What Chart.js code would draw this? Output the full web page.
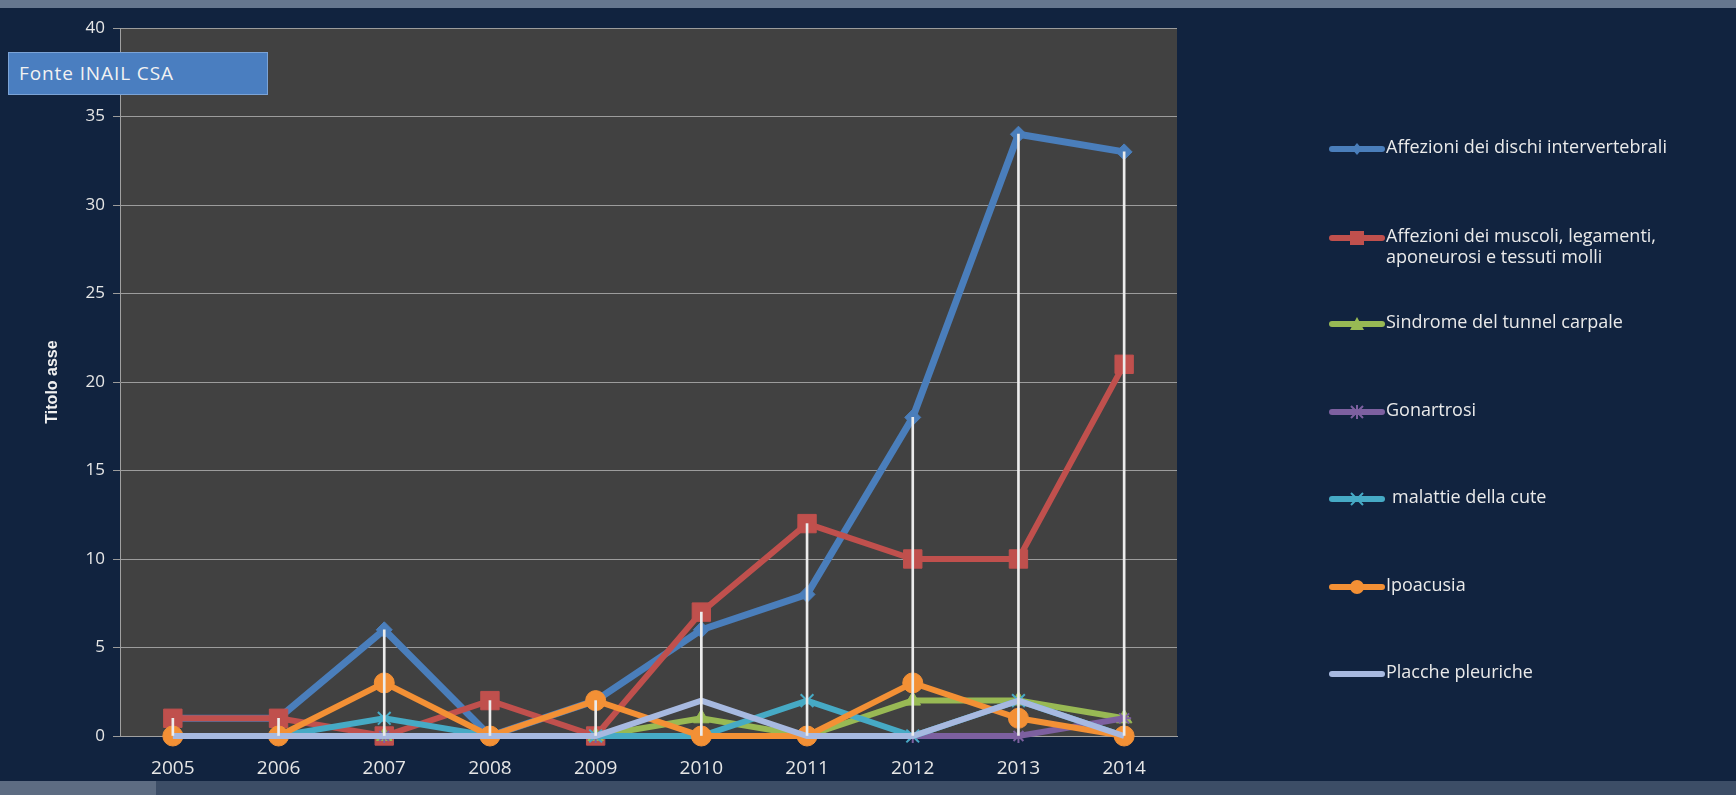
<!DOCTYPE html>
<html><head><meta charset="utf-8">
<script src="https://cdn.jsdelivr.net/npm/chart.js@4"></script>
<style>
html,body{margin:0;padding:0;width:1736px;height:795px;overflow:hidden;background:#11233f;font-family:"Open Sans",sans-serif;}
#top{position:absolute;left:0;top:0;width:1736px;height:8px;background:#66778f;}
#bot{position:absolute;left:0;top:781px;width:1736px;height:14px;background:#3c4d66;}
#botL{position:absolute;left:0;top:781px;width:156px;height:14px;background:#5d6c82;}
#wrap{position:absolute;left:0;top:0;width:1736px;height:795px;}
#fonte{position:absolute;left:8px;top:52px;width:260px;height:43px;background:#4a7ec0;border:1px solid #7ba3d6;box-sizing:border-box;color:#f2f2f2;font-size:19px;line-height:41px;padding-left:10px;letter-spacing:0.9px;white-space:nowrap;}
.leg{position:absolute;left:1329px;height:0;}
.leg svg{position:absolute;left:0;top:-10px;}
.leg span{position:absolute;left:57px;top:-13px;color:#eaeaea;font-size:18px;line-height:21px;white-space:nowrap;}
</style>
</head><body>
<div id="top"></div>
<div id="wrap"><canvas id="c" width="1736" height="795"></canvas></div>
<div id="bot"></div><div id="botL"></div>
<div id="fonte">Fonte INAIL CSA</div>
<div id="legend"></div>
<script>
const years = ['2005','2006','2007','2008','2009','2010','2011','2012','2013','2014'];
const dischi     = [1, 1, 6, 0, 2, 6, 8, 18, 34, 33];
const muscoli    = [1, 1, 0, 2, 0, 7, 12, 10, 10, 21];
const tunnel     = [0, 0, 0, 0, 0, 1, 0, 2, 2, 1];
const gonartrosi = [0, 0, 0, 0, 0, 0, 0, 0, 0, 1];
const cute       = [0, 0, 1, 0, 0, 0, 2, 0, 2, 0];
const ipoacusia  = [0, 0, 3, 0, 2, 0, 0, 3, 1, 0];
const placche    = [0, 0, 0, 0, 0, 2, 0, 0, 2, 0];
const seriesNames = [
  'Affezioni dei dischi intervertebrali',
  'Affezioni dei muscoli, legamenti,\naponeurosi e tessuti molli',
  'Sindrome del tunnel carpale',
  'Gonartrosi',
  ' malattie della cute',
  'Ipoacusia',
  'Placche pleuriche'
];
const yMin = 0, yMax = 40, yStep = 5;

const allSeries = [dischi, muscoli, tunnel, gonartrosi, cute, ipoacusia, placche];
const colors = ['#4a7ebb','#c0504d','#98b954','#7d60a0','#46aac5','#f39035','#a7b9e0'];
const styles = ['rectRot','rect','triangle','star','crossRot','circle','line'];
const radii  = [8, 13, 9, 7, 9, 10, 0];
const widths = [7, 6, 6, 6, 6, 6, 6];

const hiLo = years.map((_, i) => {
  const vs = allSeries.map(s => s[i]);
  return [Math.min(...vs), Math.max(...vs)];
});

const datasets = [{
  type: 'bar', data: hiLo, backgroundColor: '#ececec', barThickness: 2, order: 0
}];
allSeries.forEach((s, k) => {
  datasets.push({
    type: 'line', label: seriesNames[k], data: s,
    borderColor: colors[k], backgroundColor: colors[k],
    pointBackgroundColor: colors[k], pointBorderColor: colors[k],
    borderWidth: widths[k], pointStyle: styles[k], pointRadius: radii[k],
    pointBorderWidth: styles[k] === 'crossRot' || styles[k] === 'star' ? 2 : 1,
    fill: false, tension: 0, clip: false, order: 7 - k
  });
});

const bgPlugin = {
  id: 'bg',
  beforeDraw(chart) {
    const {ctx, chartArea: a} = chart;
    ctx.save();
    ctx.fillStyle = '#414141';
    ctx.fillRect(a.left, a.top, a.right - a.left, a.bottom - a.top);
    ctx.restore();
  }
};

new Chart(document.getElementById('c'), {
  type: 'line',
  data: { labels: years, datasets },
  options: {
    responsive: false, animation: false, devicePixelRatio: 1,
    layout: { padding: { left: 0, top: 28, right: 559, bottom: 0 } },
    plugins: { legend: { display: false }, tooltip: { enabled: false } },
    scales: {
      x: {
        offset: true,
        grid: { display: false },
        border: { color: '#a0a0a0' },
        ticks: { color: '#e6e6e6', font: { size: 19, family: 'Open Sans' }, padding: 13 },
        afterFit(s) { s.height = 59; }
      },
      y: {
        min: yMin, max: yMax,
        ticks: { stepSize: yStep, color: '#e6e6e6', font: { size: 17, family: 'Open Sans' }, padding: 8 },
        grid: { color: '#9c9c9c', tickLength: 7, lineWidth: 1 },
        border: { color: '#a0a0a0' },
        title: {
          display: true, text: 'Titolo asse', color: '#f0f0f0',
          font: { size: 16, weight: 'bold', family: '"Liberation Sans", sans-serif' },
          padding: { top: 43, bottom: 0 }
        },
        afterFit(s) { s.width = 120; }
      }
    }
  },
  plugins: [bgPlugin]
});

// HTML legend
const legYs = [149, 238, 324, 412, 499, 587, 674];
function markerSvg(k) {
  const c = colors[k];
  let m = '';
  switch (styles[k]) {
    case 'rectRot': m = `<polygon points="28,4 33,10 28,16 23,10" fill="${c}"/>`; break;
    case 'rect': m = `<rect x="21" y="3" width="14" height="14" fill="${c}"/>`; break;
    case 'triangle': m = `<polygon points="28,3 35,16 21,16" fill="${c}"/>`; break;
    case 'star': m = `<path d="M22 4 L34 16 M34 4 L22 16 M28 3 L28 17" stroke="${c}" stroke-width="2"/>`; break;
    case 'crossRot': m = `<path d="M22 4 L34 16 M34 4 L22 16" stroke="${c}" stroke-width="2"/>`; break;
    case 'circle': m = `<circle cx="28" cy="10" r="7" fill="${c}"/>`; break;
    default: m = '';
  }
  return `<svg width="56" height="20"><line x1="3" y1="10" x2="53" y2="10" stroke="${c}" stroke-width="6" stroke-linecap="round"/>${m}</svg>`;
}
const legEl = document.getElementById('legend');
seriesNames.forEach((name, k) => {
  const d = document.createElement('div');
  d.className = 'leg';
  d.style.top = legYs[k] + 'px';
  d.innerHTML = markerSvg(k) + '<span></span>';
  const sp = d.querySelector('span');
  name.split('\n').forEach((line, j) => {
    if (j) sp.appendChild(document.createElement('br'));
    sp.appendChild(document.createTextNode(line));
  });
  if (name.startsWith(' ')) sp.style.left = '63px';
  legEl.appendChild(d);
});
</script>
</body></html>
